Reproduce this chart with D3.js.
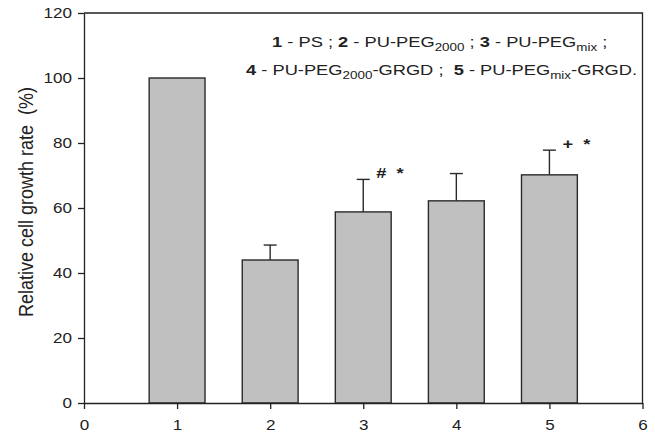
<!DOCTYPE html>
<html>
<head>
  <meta charset="UTF-8">
  <script src="https://d3js.org/d3.v7.min.js"></script>
  <style>
    body { margin: 0; background: #fff; }
    svg text { font-family: "Liberation Sans", Arial, sans-serif; }
    .axis text { font-size: 14px; fill: #222; }
    .axis path, .axis line { stroke: #222; stroke-width: 1.3; }
  </style>
</head>
<body>
  <div id="chart"></div>
  <script>
    const groups = [1, 2, 3, 4, 5];
    const growth = [100, 44, 58.8, 62.2, 70.2];
    const errors = [0, 4.6, 10, 8.4, 7.6];
    const marks = ["", "", "#  *", "", "+  *"];
    const xTicks = [0, 1, 2, 3, 4, 5, 6];
    const yTicks = [0, 20, 40, 60, 80, 100, 120];

    // the original figure is a bit wider than tall, so text gets stretched
    const SX = 1.22;

    const margin = {top: 13, right: 12, bottom: 30, left: 84},
          width = 655 - margin.left - margin.right,
          height = 433 - margin.top - margin.bottom;

    const svg = d3.select("#chart").append("svg")
      .attr("width", 655).attr("height", 433)
      .append("g")
      .attr("transform", `translate(${margin.left},${margin.top})`);

    const x = d3.scaleLinear().domain([0, 6]).range([0, width - 0.5]);
    const y = d3.scaleLinear().domain([0, 120]).range([height, 0]);
    const barW = x(0.6) - x(0);

    // frame (top and right)
    svg.append("path")
      .attr("d", `M0,0H${x(6)}V${height}`)
      .attr("fill", "none").attr("stroke", "#222").attr("stroke-width", 1.3);

    const data = groups.map((g, i) => ({g, v: growth[i], e: errors[i], m: marks[i]}));

    svg.selectAll(".bar").data(data).enter().append("rect")
      .attr("x", d => x(d.g) - barW / 2)
      .attr("y", d => y(d.v))
      .attr("width", barW)
      .attr("height", d => y(0) - y(d.v))
      .attr("fill", "#c0c0c0").attr("stroke", "#2a2a2a").attr("stroke-width", 1.4);

    const eb = svg.selectAll(".err").data(data.filter(d => d.e > 0)).enter().append("g");
    eb.append("line")
      .attr("x1", d => x(d.g)).attr("x2", d => x(d.g))
      .attr("y1", d => y(d.v)).attr("y2", d => y(d.v + d.e))
      .attr("stroke", "#2a2a2a").attr("stroke-width", 1.4);
    eb.append("line")
      .attr("x1", d => x(d.g) - 6.5).attr("x2", d => x(d.g) + 6.5)
      .attr("y1", d => y(d.v + d.e)).attr("y2", d => y(d.v + d.e))
      .attr("stroke", "#2a2a2a").attr("stroke-width", 1.4);

    svg.selectAll(".mark").data(data.filter(d => d.m)).enter().append("text")
      .attr("transform", d => `translate(${x(d.g) + 13},${y(d.v + d.e) - 1}) scale(${SX},1)`)
      .attr("font-size", 15).attr("font-weight", "bold").attr("fill", "#222")
      .style("white-space", "pre")
      .text(d => d.m);

    const xAxis = svg.append("g").attr("class", "axis")
      .attr("transform", `translate(0,${height})`)
      .call(d3.axisBottom(x).tickValues(xTicks).tickFormat(d3.format("d"))
        .tickSize(6).tickSizeOuter(0).tickPadding(11));
    xAxis.selectAll("text").attr("transform", `scale(${SX},1)`);

    const yAxis = svg.append("g").attr("class", "axis")
      .call(d3.axisLeft(y).tickValues(yTicks).tickSize(6).tickSizeOuter(0).tickPadding(6));
    yAxis.selectAll("text")
      .attr("x", -12 / SX)
      .attr("transform", `scale(${SX},1)`);

    svg.append("text")
      .attr("transform", `translate(${33 - margin.left},${202 - margin.top}) scale(1.15,1) rotate(-90)`)
      .attr("text-anchor", "middle")
      .attr("font-size", 18).attr("fill", "#222")
      .style("white-space", "pre")
      .text("Relative cell growth rate  (%)");

    // legend
    function legendLine(parts, lx, ly) {
      const t = svg.append("text")
        .attr("transform", `translate(${lx - margin.left},${ly - margin.top}) scale(${SX},1)`)
        .attr("font-size", 15).attr("fill", "#222")
        .style("white-space", "pre");
      parts.forEach(p => {
        const s = t.append("tspan").text(p.t);
        if (p.b) s.attr("font-weight", "bold");
        if (p.sub) s.attr("font-size", 11).attr("dy", 4);
        if (p.up) s.attr("dy", -4);
      });
    }
    legendLine([
      {t: "1", b: true}, {t: " - PS ; "}, {t: "2", b: true}, {t: " - PU-PEG"},
      {t: "2000", sub: true}, {t: " ; ", up: true}, {t: "3", b: true}, {t: " - PU-PEG"},
      {t: "mix", sub: true}, {t: " ;", up: true}
    ], 272, 47);
    legendLine([
      {t: "4", b: true}, {t: " - PU-PEG"}, {t: "2000", sub: true}, {t: "-GRGD ;  ", up: true},
      {t: "5", b: true}, {t: " - PU-PEG"}, {t: "mix", sub: true}, {t: "-GRGD.", up: true}
    ], 246, 75);
  </script>
</body>
</html>
